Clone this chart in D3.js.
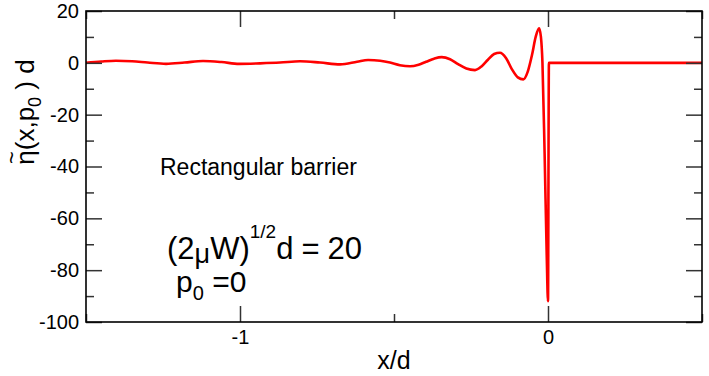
<!DOCTYPE html>
<html>
<head>
<meta charset="utf-8">
<script src="https://d3js.org/d3.v7.min.js"></script>
<style>
  body { margin: 0; background: #fff; }
  svg text { font-family: "Liberation Sans", Arial, Helvetica, sans-serif; fill: #000; }
</style>
</head>
<body>
<svg id="chart" width="709" height="376"></svg>
<script>
// x/d positions and eta(x,p0) d values
var xPos = [-1.5, -1.45, -1.403, -1.35, -1.30, -1.24, -1.18, -1.12, -1.06, -1.003,
            -0.935, -0.87, -0.805, -0.74, -0.675, -0.62, -0.584, -0.545, -0.513, -0.481,
            -0.448, -0.42, -0.396, -0.37, -0.345, -0.318, -0.292, -0.265, -0.237, -0.215,
            -0.195, -0.175, -0.156, -0.136, -0.117, -0.098, -0.080, -0.066, -0.052, -0.040,
            -0.029, -0.023, -0.018, -0.011, -0.004, 0.0, 0.003, 0.5];
var etaVals = [0, 0.5, 0.8, 0.6, 0.1, -0.4, 0.1, 0.7, 0.3, -0.4,
               -0.2, 0.1, 0.6, 0.1, -0.6, 0.4, 1.1, 0.8, 0.1, -0.9,
               -1.3, -0.7, 0.4, 1.6, 2.2, 1.4, -0.5, -2.2, -2.8, -1.3,
               1.2, 3.4, 3.9, 1.8, -2.5, -5.6, -6.4, -3.5, 3, 10,
               13.3, 10, 0, -35, -75, -92, 0, 0];

var xMajor = [-1, 0];
var xMinor = [-1.5, -0.5, 0.5];
var yMajor = [-100, -80, -60, -40, -20, 0, 20];
var yMinor = [-90, -70, -50, -30, -10, 10];

var pL = 86, pR = 702, pT = 11, pB = 322;
var svg = d3.select("#chart");

var x = d3.scaleLinear([-1.5, 0.5], [pL, pR]);
var y = d3.scaleLinear([-100, 20], [pB, pT]);

var pts = xPos.map((v, i) => [v, etaVals[i]]);

// curve
svg.append("path")
    .datum(pts)
    .attr("fill", "none")
    .attr("stroke", "#ff0000")
    .attr("stroke-width", 2.6)
    .attr("stroke-linejoin", "round")
    .attr("d", d3.line().x(d => x(d[0])).y(d => y(d[1])).curve(d3.curveMonotoneX));

function styleAxis(g) {
    g.select(".domain").remove();
    g.selectAll(".tick line").attr("stroke", "#333").attr("stroke-width", 1.5);
    g.selectAll("text").style("font-size", "20px").attr("fill", "#000");
}
var fmt = d => d < 0 ? "-" + Math.abs(d) : "" + d;

// bottom
svg.append("g").attr("transform", "translate(0," + pB + ")")
    .call(d3.axisBottom(x).tickValues(xMajor).tickSizeInner(-16).tickSizeOuter(0).tickPadding(8).tickFormat(fmt))
    .call(styleAxis);
svg.append("g").attr("transform", "translate(0," + pB + ")")
    .call(d3.axisBottom(x).tickValues(xMinor).tickSizeInner(-8).tickSizeOuter(0).tickFormat(""))
    .call(styleAxis);
// top
svg.append("g").attr("transform", "translate(0," + pT + ")")
    .call(d3.axisTop(x).tickValues(xMajor).tickSizeInner(-16).tickSizeOuter(0).tickFormat(""))
    .call(styleAxis);
svg.append("g").attr("transform", "translate(0," + pT + ")")
    .call(d3.axisTop(x).tickValues(xMinor).tickSizeInner(-8).tickSizeOuter(0).tickFormat(""))
    .call(styleAxis);
// left
svg.append("g").attr("transform", "translate(" + pL + ",0)")
    .call(d3.axisLeft(y).tickValues(yMajor).tickSizeInner(-16).tickSizeOuter(0).tickPadding(7).tickFormat(fmt))
    .call(styleAxis);
svg.append("g").attr("transform", "translate(" + pL + ",0)")
    .call(d3.axisLeft(y).tickValues(yMinor).tickSizeInner(-8).tickSizeOuter(0).tickFormat(""))
    .call(styleAxis);
// right
svg.append("g").attr("transform", "translate(" + pR + ",0)")
    .call(d3.axisRight(y).tickValues(yMajor).tickSizeInner(-16).tickSizeOuter(0).tickFormat(""))
    .call(styleAxis);
svg.append("g").attr("transform", "translate(" + pR + ",0)")
    .call(d3.axisRight(y).tickValues(yMinor).tickSizeInner(-8).tickSizeOuter(0).tickFormat(""))
    .call(styleAxis);

// frame
svg.append("rect")
    .attr("x", pL).attr("y", pT)
    .attr("width", pR - pL).attr("height", pB - pT)
    .attr("fill", "none").attr("stroke", "#000").attr("stroke-width", 1.6);

// x title
svg.append("text")
    .attr("x", (pL + pR) / 2).attr("y", 369)
    .attr("text-anchor", "middle")
    .style("font-size", "25px")
    .text("x/d");

// y title, rotated
var yt = svg.append("g").attr("transform", "translate(34,112) rotate(-90)");
var ytext = yt.append("text").style("font-size", "26px");
ytext.append("tspan").attr("class", "eta").text("\u03b7");
ytext.append("tspan").text("(x,p");
ytext.append("tspan").attr("dy", 7).style("font-size", "18px").text("0");
ytext.append("tspan").attr("dy", -7).text(" ) d");
var tw = ytext.node().getComputedTextLength();
ytext.attr("x", -tw / 2);
var etaW = ytext.select(".eta").node().getComputedTextLength();
yt.append("text")
    .attr("x", -tw / 2 + etaW / 2).attr("y", -15)
    .attr("text-anchor", "middle")
    .style("font-size", "22px")
    .text("~");

// annotations
svg.append("text").attr("x", 160).attr("y", 175)
    .style("font-size", "23px")
    .text("Rectangular barrier");

var a2 = svg.append("text").attr("x", 167).attr("y", 259).style("font-size", "31px");
a2.append("tspan").text("(2");
a2.append("tspan").style("font-size", "27px").attr("dy", 4).text("\u03bc");
a2.append("tspan").attr("dy", -4).text("W)");
a2.append("tspan").style("font-size", "19px").attr("dy", -21).text("1/2");
a2.append("tspan").attr("dy", 21).text("d");
a2.append("tspan").attr("dx", 8).text("=");
a2.append("tspan").attr("dx", 8).text("20");

var a3 = svg.append("text").attr("x", 176).attr("y", 292).style("font-size", "30px");
a3.append("tspan").text("p");
a3.append("tspan").style("font-size", "20px").attr("dy", 8).text("0");
a3.append("tspan").attr("dy", -8).text(" =0");
</script>
</body>
</html>
